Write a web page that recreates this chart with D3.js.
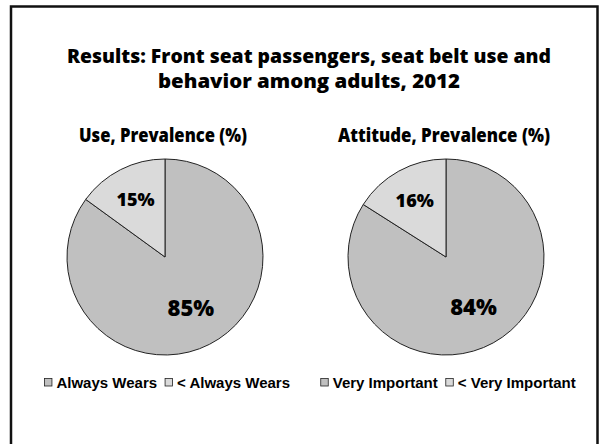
<!DOCTYPE html>
<html>
<head>
<meta charset="utf-8">
<script src="https://cdn.jsdelivr.net/npm/d3@7"></script>
<style>
  body { margin: 0; background: #fff; }
  svg { display: block; }
</style>
</head>
<body>
<div id="chart"></div>
<script>

// chart data
var titleLines = ["Results: Front seat passengers, seat belt use and", "behavior among adults, 2012"];
var pieTitles = ["Use, Prevalence (%)", "Attitude, Prevalence (%)"];
var useLabels = ["Always Wears", "< Always Wears"];
var useValues = [85, 15];
var attitudeLabels = ["Very Important", "< Very Important"];
var attitudeValues = [84, 16];
var sliceColors = ["#c0c0c0", "#dadada"];

var width = 600, height = 444;

var svg = d3.select("#chart").append("svg")
  .attr("width", width)
  .attr("height", height);

// frame, open at the bottom
svg.append("path")
  .attr("d", "M11,450 V6.5 H597.5 V450")
  .attr("fill", "none")
  .attr("stroke", "#111")
  .attr("stroke-width", 2.5);

var titleFont = "'Open Sans', sans-serif";
var titleWidths = [484, 302];

svg.selectAll("text.title")
  .data(titleLines)
  .enter().append("text")
  .attr("class", "title")
  .attr("x", 309)
  .attr("y", function(d, i) { return 63 + i * 25; })
  .attr("text-anchor", "middle")
  .attr("textLength", function(d, i) { return titleWidths[i]; })
  .attr("lengthAdjust", "spacingAndGlyphs")
  .style("font-family", titleFont)
  .style("font-weight", "800")
  .style("font-size", "20px")
  .text(function(d) { return d; });

var pies = [
  {title: pieTitles[0], labels: useLabels, values: useValues, cx: 165, titleW: 168},
  {title: pieTitles[1], labels: attitudeLabels, values: attitudeValues, cx: 446, titleW: 212}
];

var radius = 98, cy = 257;

// clockwise from 12 o'clock, big slice first
var pie = d3.pie().sort(null);

var arc = d3.arc().innerRadius(0).outerRadius(radius);
var labelRadius = [57, 65];
var labelSize = ["22px", "18px"];

pies.forEach(function(p) {

  svg.append("text")
    .attr("x", p.cx - 2)
    .attr("y", 142)
    .attr("text-anchor", "middle")
    .attr("textLength", p.titleW)
    .attr("lengthAdjust", "spacingAndGlyphs")
    .style("font-family", titleFont)
    .style("font-weight", "800")
    .style("font-size", "19px")
    .text(p.title);

  var g = svg.append("g")
    .attr("transform", "translate(" + p.cx + "," + cy + ")");

  var arcs = pie(p.values);

  g.selectAll("path")
    .data(arcs)
    .enter().append("path")
    .attr("d", arc)
    .attr("fill", function(d, i) { return sliceColors[i]; })
    .attr("stroke", "#222")
    .attr("stroke-width", 1);

  g.selectAll("text")
    .data(arcs)
    .enter().append("text")
    .attr("transform", function(d, i) {
      var a = (d.startAngle + d.endAngle) / 2;
      var r = labelRadius[i];
      return "translate(" + (Math.sin(a) * r) + "," + (-Math.cos(a) * r) + ")";
    })
    .attr("dy", "0.36em")
    .attr("text-anchor", "middle")
    .style("font-family", titleFont)
    .style("font-weight", "800")
    .style("font-size", function(d, i) { return labelSize[i]; })
    .text(function(d) { return d.data + "%"; });

  // legend, centred under the pie
  var legend = svg.append("g");

  var xOff = 0;
  p.labels.forEach(function(label, i) {
    legend.append("rect")
      .attr("x", xOff + 0.5)
      .attr("y", 378.5)
      .attr("width", 7.5)
      .attr("height", 7.5)
      .attr("fill", sliceColors[i])
      .attr("stroke", "#222")
      .attr("stroke-width", 0.8);
    var t = legend.append("text")
      .attr("x", xOff + 12.5)
      .attr("y", 387.5)
      .style("font-family", "'Liberation Sans', Arial, sans-serif")
      .style("font-weight", "bold")
      .style("font-size", "15px")
      .text(label);
    xOff += 12.5 + t.node().getComputedTextLength() + (i === 0 ? 7.5 : 0);
  });
  legend.attr("transform", "translate(" + (p.cx + 2 - xOff / 2) + ",0)");
});

</script>
</body>
</html>
